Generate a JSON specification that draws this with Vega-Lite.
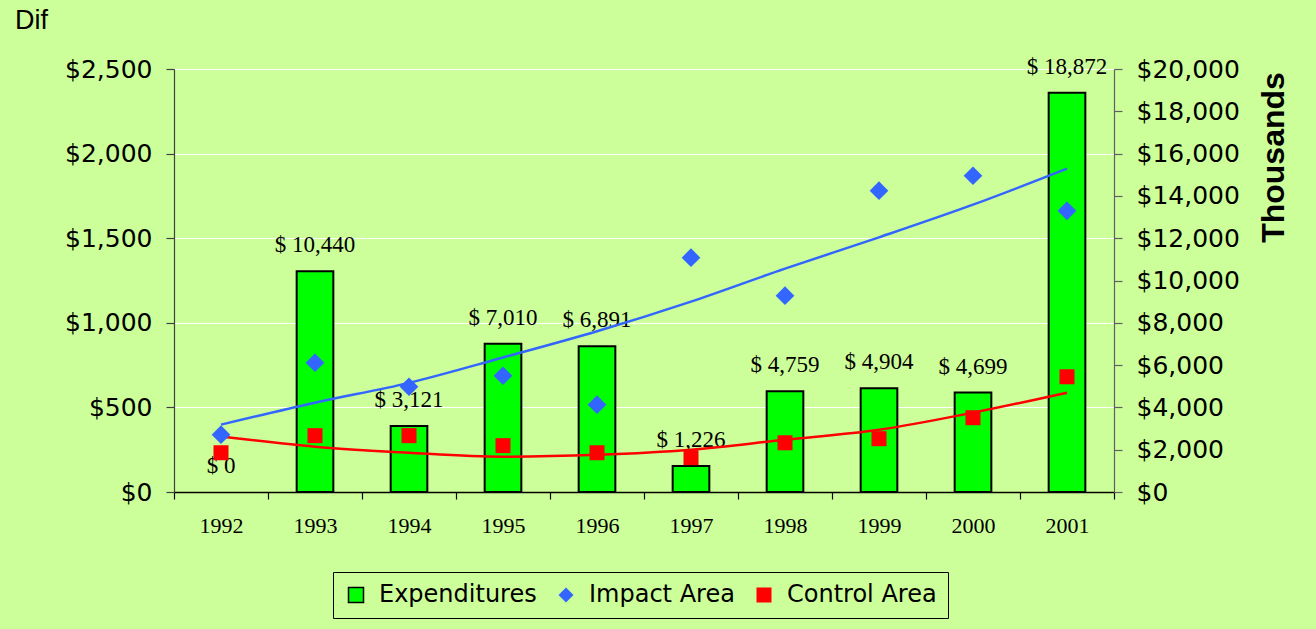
{
  "$schema": "https://vega.github.io/schema/vega-lite/v6.json",
  "width": 940,
  "height": 423,
  "autosize": {"type": "none"},
  "padding": {"left": 174, "top": 69, "right": 202, "bottom": 137},
  "background": "#CCFF99",
  "config": {"view": {"stroke": null}},
  "title": {"text": "Dif", "anchor": "start", "frame": "group", "dx": -159, "offset": 21, "font": "Liberation Sans", "fontSize": 27, "fontWeight": "normal", "color": "#000000"},
  "datasets": {
    "bars": [
      {"year": "1992", "series": "Expenditures", "exp": 0, "label": "$ 0"},
      {"year": "1993", "series": "Expenditures", "exp": 10440, "label": "$ 10,440"},
      {"year": "1994", "series": "Expenditures", "exp": 3121, "label": "$ 3,121"},
      {"year": "1995", "series": "Expenditures", "exp": 7010, "label": "$ 7,010"},
      {"year": "1996", "series": "Expenditures", "exp": 6891, "label": "$ 6,891"},
      {"year": "1997", "series": "Expenditures", "exp": 1226, "label": "$ 1,226"},
      {"year": "1998", "series": "Expenditures", "exp": 4759, "label": "$ 4,759"},
      {"year": "1999", "series": "Expenditures", "exp": 4904, "label": "$ 4,904"},
      {"year": "2000", "series": "Expenditures", "exp": 4699, "label": "$ 4,699"},
      {"year": "2001", "series": "Expenditures", "exp": 18872, "label": "$ 18,872"}
    ],
    "points": [
      {"year": "1992", "series": "Impact Area", "value": 339},
      {"year": "1993", "series": "Impact Area", "value": 764},
      {"year": "1994", "series": "Impact Area", "value": 622},
      {"year": "1995", "series": "Impact Area", "value": 687},
      {"year": "1996", "series": "Impact Area", "value": 516},
      {"year": "1997", "series": "Impact Area", "value": 1385},
      {"year": "1998", "series": "Impact Area", "value": 1160},
      {"year": "1999", "series": "Impact Area", "value": 1781},
      {"year": "2000", "series": "Impact Area", "value": 1869},
      {"year": "2001", "series": "Impact Area", "value": 1662},
      {"year": "1992", "series": "Control Area", "value": 232},
      {"year": "1993", "series": "Control Area", "value": 333},
      {"year": "1994", "series": "Control Area", "value": 333},
      {"year": "1995", "series": "Control Area", "value": 274},
      {"year": "1996", "series": "Control Area", "value": 232},
      {"year": "1997", "series": "Control Area", "value": 203},
      {"year": "1998", "series": "Control Area", "value": 291},
      {"year": "1999", "series": "Control Area", "value": 315},
      {"year": "2000", "series": "Control Area", "value": 439},
      {"year": "2001", "series": "Control Area", "value": 681}
    ],
    "trend": [
      {"year": "1992", "series": "Impact Area", "value": 398},
      {"year": "1993", "series": "Impact Area", "value": 528},
      {"year": "1994", "series": "Impact Area", "value": 645},
      {"year": "1995", "series": "Impact Area", "value": 795},
      {"year": "1996", "series": "Impact Area", "value": 950},
      {"year": "1997", "series": "Impact Area", "value": 1125},
      {"year": "1998", "series": "Impact Area", "value": 1320},
      {"year": "1999", "series": "Impact Area", "value": 1505},
      {"year": "2000", "series": "Impact Area", "value": 1698},
      {"year": "2001", "series": "Impact Area", "value": 1911},
      {"year": "1992", "series": "Control Area", "value": 328},
      {"year": "1993", "series": "Control Area", "value": 268},
      {"year": "1994", "series": "Control Area", "value": 232},
      {"year": "1995", "series": "Control Area", "value": 209},
      {"year": "1996", "series": "Control Area", "value": 220},
      {"year": "1997", "series": "Control Area", "value": 250},
      {"year": "1998", "series": "Control Area", "value": 309},
      {"year": "1999", "series": "Control Area", "value": 368},
      {"year": "2000", "series": "Control Area", "value": 469},
      {"year": "2001", "series": "Control Area", "value": 587}
    ]
  },
  "layer": [
    {
      "data": {"name": "bars"},
      "layer": [
        {
          "transform": [{"filter": "datum.exp > 0"}],
          "mark": {"type": "bar", "width": {"band": 0.39}, "stroke": "#000000", "strokeWidth": 2},
          "encoding": {
            "x": {"field": "year", "type": "ordinal", "scale": {"paddingInner": 0, "paddingOuter": 0},
              "axis": {"title": null, "labelAngle": 0, "tickBand": "extent", "domainColor": "#000000", "domainWidth": 1.5, "tickColor": "#000000", "tickWidth": 1.2, "tickSize": 7, "labelPadding": 16, "labelFont": "Liberation Serif", "labelFontSize": 22, "labelColor": "#000000", "grid": false}},
            "y": {"field": "exp", "type": "quantitative", "scale": {"domain": [0, 20000], "nice": false},
              "axis": {"orient": "right", "values": [0, 2000, 4000, 6000, 8000, 10000, 12000, 14000, 16000, 18000, 20000], "format": "$,.0f", "grid": false, "domainColor": "#606060", "domainWidth": 1.2, "tickColor": "#606060", "tickWidth": 1.2, "tickSize": 8, "labelPadding": 14, "labelFont": "DejaVu Sans", "labelFontSize": 25, "labelColor": "#000000",
                "title": "Thousands", "titleFont": "Liberation Sans", "titleFontSize": 32, "titleFontWeight": "bold", "titleColor": "#000000", "titleAngle": 270, "titleX": 159, "titleY": 88, "titleAlign": "center", "titleBaseline": "middle"}},
            "color": {"field": "series", "type": "nominal",
              "scale": {"domain": ["Expenditures", "Impact Area", "Control Area"], "range": ["#00FF00", "#3366FF", "#FF0000"]},
              "legend": {"orient": "none", "legendX": 159, "legendY": 503, "direction": "horizontal", "title": null, "padding": 11, "strokeColor": "#000000", "labelFont": "DejaVu Sans", "labelFontSize": 24, "labelColor": "#000000", "symbolSize": 225, "labelOffset": 11, "columnPadding": 17, "symbolStrokeWidth": 1.5, "symbolOpacity": 1,
                "encoding": {"symbols": {"stroke": {"condition": {"test": "datum.value === 'Expenditures'", "value": "#000000"}, "value": "transparent"}}}}}
          }
        },
        {
          "mark": {"type": "text", "baseline": "alphabetic", "dy": -19, "font": "Liberation Serif", "fontSize": 23, "color": "#000000"},
          "encoding": {
            "x": {"field": "year", "type": "ordinal"},
            "y": {"field": "exp", "type": "quantitative"},
            "text": {"field": "label"}
          }
        }
      ]
    },
    {
      "layer": [
        {
          "data": {"name": "trend"},
          "transform": [{"filter": "datum.series === 'Impact Area'"}],
          "mark": {"type": "line", "color": "#3366FF", "strokeWidth": 2.5, "interpolate": "monotone"},
          "encoding": {
            "x": {"field": "year", "type": "ordinal"},
            "y": {"field": "value", "type": "quantitative", "scale": {"domain": [0, 2500], "nice": false},
              "axis": {"orient": "left", "values": [0, 500, 1000, 1500, 2000, 2500], "format": "$,.0f", "grid": true, "gridColor": "#FFFFFF", "gridWidth": 1.2, "domainColor": "#404040", "domainWidth": 1.2, "tickColor": "#404040", "tickWidth": 1.2, "tickSize": 8, "labelPadding": 14, "labelFont": "DejaVu Sans", "labelFontSize": 25, "labelColor": "#000000", "title": null}}
          }
        },
        {
          "data": {"name": "trend"},
          "transform": [{"filter": "datum.series === 'Control Area'"}],
          "mark": {"type": "line", "color": "#FF0000", "strokeWidth": 2.5, "interpolate": "monotone"},
          "encoding": {
            "x": {"field": "year", "type": "ordinal"},
            "y": {"field": "value", "type": "quantitative"}
          }
        },
        {
          "data": {"name": "points"},
          "transform": [{"filter": "datum.series === 'Impact Area'"}],
          "mark": {"type": "point", "filled": true, "size": 350, "opacity": 1},
          "encoding": {
            "x": {"field": "year", "type": "ordinal"},
            "y": {"field": "value", "type": "quantitative"},
            "color": {"field": "series", "type": "nominal"},
            "shape": {"field": "series", "type": "nominal", "scale": {"domain": ["Expenditures", "Impact Area", "Control Area"], "range": ["square", "diamond", "square"]}}
          }
        },
        {
          "data": {"name": "points"},
          "transform": [{"filter": "datum.series === 'Control Area'"}],
          "mark": {"type": "point", "filled": true, "size": 225, "opacity": 1},
          "encoding": {
            "x": {"field": "year", "type": "ordinal"},
            "y": {"field": "value", "type": "quantitative"},
            "color": {"field": "series", "type": "nominal"},
            "shape": {"field": "series", "type": "nominal"}
          }
        }
      ]
    }
  ],
  "resolve": {"scale": {"y": "independent"}}
}
